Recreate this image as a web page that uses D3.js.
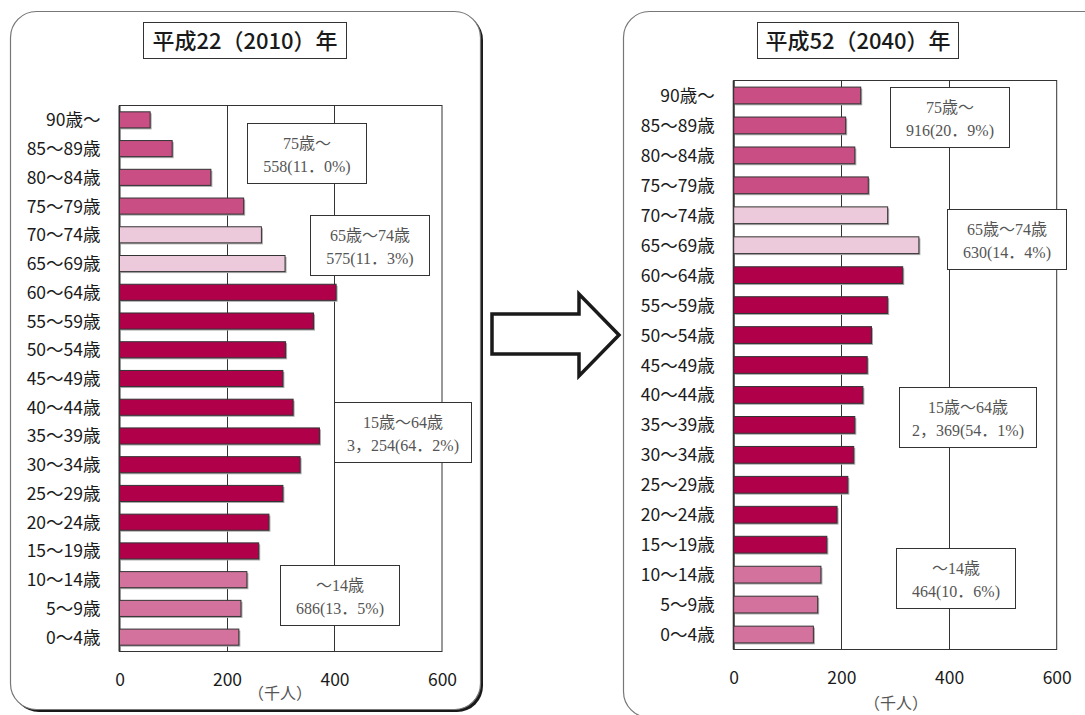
<!DOCTYPE html>
<html>
<head>
<meta charset="utf-8">
<script src="https://cdn.jsdelivr.net/npm/d3@7"></script>
<style>
  body { margin: 0; background: #fff; }
  svg { display: block; }
</style>
</head>
<body>
<svg id="chart" width="1085" height="715"></svg>
<script>
// age groups, top to bottom
var ageGroups = ["90歳〜", "85〜89歳", "80〜84歳", "75〜79歳", "70〜74歳", "65〜69歳",
  "60〜64歳", "55〜59歳", "50〜54歳", "45〜49歳", "40〜44歳", "35〜39歳", "30〜34歳",
  "25〜29歳", "20〜24歳", "15〜19歳", "10〜14歳", "5〜9歳", "0〜4歳"];
// which bracket each age group belongs to
var ageBracket = ["75+", "75+", "75+", "75+", "65-74", "65-74",
  "15-64", "15-64", "15-64", "15-64", "15-64", "15-64", "15-64",
  "15-64", "15-64", "15-64", "0-14", "0-14", "0-14"];
// population (thousands)
var pop2010 = [57, 98, 170, 231, 264, 308, 403, 361, 309, 304, 323, 372, 336, 304, 278, 259, 237, 226, 222];
var pop2040 = [236, 208, 225, 250, 286, 344, 314, 286, 256, 248, 240, 225, 223, 212, 192, 173, 162, 156, 148];
var xTicks = [0, 200, 400, 600];
var titles = ["平成22（2010）年", "平成52（2040）年"];
var notes2010 = [["75歳〜", "558(11．0%)"], ["65歳〜74歳", "575(11．3%)"], ["15歳〜64歳", "3，254(64．2%)"], ["〜14歳", "686(13．5%)"]];
var notes2040 = [["75歳〜", "916(20．9%)"], ["65歳〜74歳", "630(14．4%)"], ["15歳〜64歳", "2，369(54．1%)"], ["〜14歳", "464(10．6%)"]];

var bracketColor = { "75+": "#c84e84", "65-74": "#edcadb", "15-64": "#b0004a", "0-14": "#d4729e" };
var sansFont = "'Noto Sans CJK JP', 'Noto Sans', sans-serif";
var serifFont = "'Liberation Serif', 'DejaVu Serif', 'Noto Sans CJK JP', serif";

var svg = d3.select("#chart");

// panel frames
// left one has a dark drop shadow on the right/bottom
svg.append("rect").attr("x", 13).attr("y", 14).attr("width", 470).attr("height", 698)
  .attr("rx", 26).attr("fill", "#1a1a1a");
svg.append("rect").attr("x", 10.5).attr("y", 11.5).attr("width", 470).attr("height", 698)
  .attr("rx", 26).attr("fill", "#fff").attr("stroke", "#777").attr("stroke-width", 1.2);
svg.append("rect").attr("x", 623.5).attr("y", 11.5).attr("width", 520).attr("height", 706)
  .attr("rx", 26).attr("fill", "#fff").attr("stroke", "#777").attr("stroke-width", 1.2);

// arrow between the panels
var arrowPts = [[492, 314], [579, 314], [579, 294], [619, 335], [579, 376], [579, 354], [492, 354]];
svg.append("path").attr("d", d3.line()(arrowPts) + "Z")
  .attr("fill", "#fff").attr("stroke", "#1a1a1a").attr("stroke-width", 3.5)
  .attr("stroke-linejoin", "miter");

function drawPanel(cfg) {
  var g = svg.append("g");

  // title box
  var tb = cfg.titleBox;
  g.append("rect").attr("x", tb[0]).attr("y", tb[1]).attr("width", tb[2]).attr("height", tb[3])
    .attr("fill", "#fff").attr("stroke", "#333").attr("stroke-width", 1);
  g.append("text").attr("x", tb[0] + tb[2] / 2).attr("y", tb[1] + tb[3] / 2 + 8)
    .attr("text-anchor", "middle").attr("font-family", sansFont).attr("font-size", 22)
    .attr("font-weight", 500).attr("fill", "#1a1a1a").text(cfg.title);

  var x = d3.scaleLinear().domain([0, 600]).range([cfg.left, cfg.right]);
  var y = d3.scaleBand().domain(ageGroups).range([cfg.top, cfg.bottom])
    .paddingInner(0.44).paddingOuter(0.22);

  // plot frame + grid
  g.append("rect").attr("x", cfg.left).attr("y", cfg.top)
    .attr("width", cfg.right - cfg.left).attr("height", cfg.bottom - cfg.top)
    .attr("fill", "none").attr("stroke", "#333").attr("stroke-width", 1);
  g.selectAll("line.grid").data([200, 400]).enter().append("line")
    .attr("x1", function(d) { return Math.round(x(d)) + 0.5; })
    .attr("x2", function(d) { return Math.round(x(d)) + 0.5; })
    .attr("y1", cfg.top).attr("y2", cfg.bottom)
    .attr("stroke", "#333").attr("stroke-width", 1);
  g.append("line").attr("x1", cfg.left).attr("x2", cfg.left).attr("y1", cfg.top).attr("y2", cfg.bottom)
    .attr("stroke", "#333").attr("stroke-width", 2);

  // bars (with a faint shadow)
  var rows = ageGroups.map(function(a, i) { return { age: a, v: cfg.values[i], b: ageBracket[i] }; });
  g.selectAll("rect.shadow").data(rows).enter().append("rect")
    .attr("x", x(0) + 1.5).attr("y", function(d) { return y(d.age) + 1.5; })
    .attr("width", function(d) { return x(d.v) - x(0); }).attr("height", y.bandwidth())
    .attr("fill", "#aaa");
  g.selectAll("rect.bar").data(rows).enter().append("rect")
    .attr("x", x(0)).attr("y", function(d) { return y(d.age); })
    .attr("width", function(d) { return x(d.v) - x(0); }).attr("height", y.bandwidth())
    .attr("fill", function(d) { return bracketColor[d.b]; })
    .attr("stroke", "#333").attr("stroke-width", 1);

  // age labels
  g.selectAll("text.age").data(ageGroups).enter().append("text")
    .attr("x", cfg.left - 19).attr("y", function(d) { return y(d) + y.bandwidth() / 2 + 6.5; })
    .attr("text-anchor", "end").attr("font-family", sansFont).attr("font-size", 17.5)
    .attr("fill", "#1a1a1a").text(function(d) { return d; });

  // x axis labels
  var ax = g.append("g").attr("transform", "translate(0," + (cfg.bottom + 19) + ")")
    .call(d3.axisBottom(x).tickValues(xTicks).tickSize(0).tickFormat(d3.format("d")));
  ax.select(".domain").remove();
  ax.selectAll("text").attr("font-family", sansFont).attr("font-size", 17.5).attr("fill", "#1a1a1a");
  g.append("text").attr("x", cfg.unitPos[0]).attr("y", cfg.unitPos[1])
    .attr("text-anchor", "middle").attr("font-family", serifFont).attr("font-size", 16)
    .attr("fill", "#555").text("（千人）");

  // bracket notes
  cfg.notes.forEach(function(n, i) {
    var b = cfg.noteBoxes[i];
    g.append("rect").attr("x", b[0]).attr("y", b[1]).attr("width", b[2]).attr("height", 60)
      .attr("fill", "#fff").attr("stroke", "#333").attr("stroke-width", 1);
    n.forEach(function(line, j) {
      g.append("text").attr("x", b[0] + b[2] / 2).attr("y", b[1] + 25 + j * 23.5)
        .attr("text-anchor", "middle").attr("font-family", serifFont).attr("font-size", 16)
        .attr("fill", "#555").text(line);
    });
  });
}

drawPanel({
  title: titles[0], titleBox: [143.5, 22.5, 203, 36],
  left: 119.5, right: 442, top: 105.5, bottom: 651.5,
  values: pop2010, notes: notes2010,
  noteBoxes: [[247.5, 123.5, 119], [310.5, 215.5, 119], [334.5, 402.5, 137], [280.5, 565.5, 119]],
  unitPos: [280, 699]
});
drawPanel({
  title: titles[1], titleBox: [757.5, 22.5, 201, 36],
  left: 733.7, right: 1056.7, top: 80.5, bottom: 649.5,
  values: pop2040, notes: notes2040,
  noteBoxes: [[890.5, 87.5, 119], [947.5, 209.5, 119], [899.5, 387.5, 137], [896.5, 548.5, 119]],
  unitPos: [896, 709]
});
</script>
</body>
</html>
